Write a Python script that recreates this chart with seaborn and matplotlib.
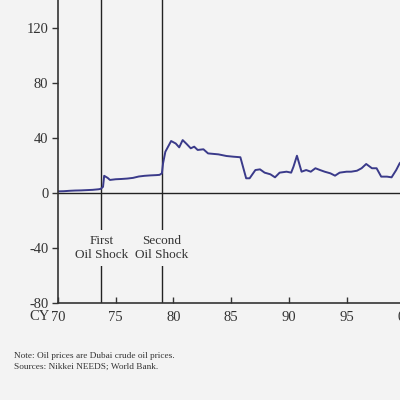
import pandas as pd
import matplotlib.pyplot as plt
import seaborn as sns

# Dubai crude oil price (USD/barrel)
years = [70.0, 70.5, 71.0, 71.5, 72.0, 72.5, 73.0, 73.5, 73.7, 73.9, 74.0, 74.3, 74.5, 75.0, 75.5, 76.0,
         76.5, 77.0, 77.5, 78.0, 78.5, 78.8, 79.0, 79.1, 79.3, 79.8, 80.2, 80.5, 80.8, 81.15, 81.5,
         81.8, 82.1, 82.6, 83.0, 83.9, 84.6, 85.2, 85.8, 86.3, 86.6, 87.1, 87.5, 87.9, 88.4,
         88.8, 89.2, 89.8, 90.2, 90.4, 90.7, 91.1, 91.5, 91.9, 92.3, 92.7, 93.1, 93.6, 94.0,
         94.4, 95.0, 95.4, 95.9, 96.3, 96.7, 97.2, 97.6, 98.0, 98.5, 98.9, 99.3, 99.6, 100.0]
prices = [1.2, 1.3, 1.6, 1.8, 1.9, 2.1, 2.3, 2.7, 3.0, 4.5, 12.5, 11.0, 9.5, 10.0, 10.2, 10.5,
          11.0, 12.0, 12.5, 12.8, 13.0, 13.2, 14.3, 21.5, 30.0, 37.8, 36.0, 33.2, 38.5, 35.6, 32.5,
          33.7, 31.3, 31.8, 28.8, 28.1, 26.9, 26.4, 26.0, 10.7, 10.7, 16.7, 17.2, 14.8, 13.6,
          11.4, 14.8, 15.5, 14.8, 19.1, 27.1, 15.5, 16.7, 15.5, 18.0, 16.7, 15.5, 14.3, 12.6,
          14.8, 15.5, 15.5, 16.2, 18.0, 21.1, 18.0, 18.0, 11.9, 11.9, 11.4, 16.7, 21.6, 25.0]

shock_years = [73.75, 79.0]
shock_labels = ['First\nOil Shock', 'Second\nOil Shock']
yticks = [-80, -40, 0, 40, 80, 120]
xticks = [70, 75, 80, 85, 90, 95, 100]
xticklabels = ['70', '75', '80', '85', '90', '95', '00']

df = pd.DataFrame({'year': years, 'price': prices})

bg = '#f3f3f3'
ink = '#333333'
sns.set_style('white')
plt.rcParams['font.family'] = ['Liberation Serif', 'DejaVu Serif']
plt.rcParams['axes.unicode_minus'] = False

fig = plt.figure(figsize=(4, 4), dpi=100, facecolor=bg)
ax = fig.add_axes([0.145, 0.2425, 1.01, 0.825], facecolor=bg)

sns.lineplot(data=df, x='year', y='price', ax=ax, color='#3a3a8a', linewidth=1.4)
ax.axhline(0, color='#222222', linewidth=1.0, zorder=1)

for x, lab in zip(shock_years, shock_labels):
    ax.axvline(x, color='#222222', linewidth=1.0, zorder=1)
    ax.text(x, -40, lab, ha='center', va='center', fontsize=9.5, color=ink,
            linespacing=1.15, zorder=3,
            bbox=dict(facecolor=bg, edgecolor='none', pad=4))

ax.set_xlim(70, 105)
ax.set_ylim(-80, 160)
ax.set_yticks(yticks)
ax.set_xticks(xticks)
ax.set_xticklabels(xticklabels)
ax.set_xlabel('')
ax.set_ylabel('')
ax.tick_params(axis='y', direction='out', length=4, width=1, color=ink, labelsize=10.5,
               labelcolor=ink, pad=3, left=True)
ax.tick_params(axis='x', direction='in', length=4, width=1, color=ink, labelsize=10.5,
               labelcolor=ink, pad=6, bottom=True)
for s in ['top', 'right']:
    ax.spines[s].set_visible(False)
for s in ['left', 'bottom']:
    ax.spines[s].set_color(ink)
    ax.spines[s].set_linewidth(1.2)

fig.text(0.124, 0.208, 'CY', fontsize=10.5, color=ink, ha='right', va='center')
fig.text(0.035, 0.106, 'Note: Oil prices are Dubai crude oil prices.', fontsize=6.7, color=ink)
fig.text(0.035, 0.079, 'Sources: Nikkei NEEDS; World Bank.', fontsize=6.7, color=ink)

fig.savefig('out.png', dpi=100, facecolor=bg)
